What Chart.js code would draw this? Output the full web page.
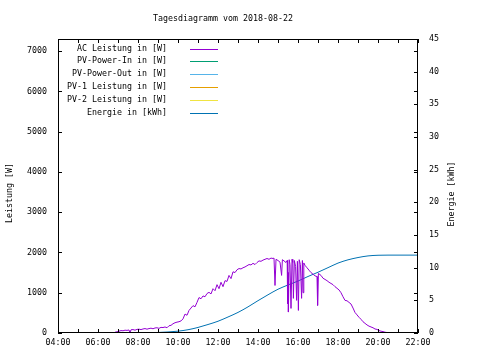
<!DOCTYPE html>
<html lang="de">
<head>
  <meta charset="UTF-8" />
  <title>Tagesdiagramm vom 2018-08-22</title>
  <script src="https://cdn.jsdelivr.net/npm/chart.js"></script>
  <style>
    body { margin: 0; background: #fff; }
    canvas { display: block; }
  </style>
</head>
<body>
  <canvas id="chart" width="480" height="360"></canvas>
  <script>
    // AC Leistung [W] over the day (hours as decimal)
    const acHours = [6.8, 6.85, 6.95, 7.05, 7.15, 7.25, 7.35, 7.45, 7.55, 7.6, 7.65, 7.75, 7.85, 7.95,
      8.05, 8.15, 8.25, 8.35, 8.45, 8.55, 8.65, 8.75, 8.85, 8.95, 9.05, 9.15, 9.25, 9.35, 9.45, 9.55,
      9.65, 9.75, 9.85, 9.95, 10.05, 10.15, 10.25, 10.35, 10.45, 10.55, 10.65, 10.75, 10.85, 10.95,
      11.05, 11.15, 11.25, 11.35, 11.45, 11.55, 11.65, 11.75, 11.85, 11.95, 12.05, 12.15, 12.25,
      12.35, 12.45, 12.55, 12.65, 12.75, 12.85, 12.95, 13.05, 13.15, 13.25, 13.35, 13.45, 13.55,
      13.65, 13.75, 13.85, 13.95, 14.05, 14.15, 14.25, 14.35, 14.45, 14.55, 14.65, 14.75, 14.8,
      14.85, 14.9, 15.0, 15.1, 15.18, 15.22, 15.3, 15.4, 15.46, 15.48, 15.5, 15.52, 15.56, 15.6,
      15.65, 15.7, 15.74, 15.77, 15.82, 15.88, 15.93, 15.97, 16.02, 16.06, 16.12, 16.18, 16.22,
      16.25, 16.29, 16.35, 16.45, 16.55, 16.65, 16.75, 16.85, 16.95, 16.98, 17.02, 17.15, 17.25,
      17.35, 17.45, 17.55, 17.65, 17.75, 17.85, 17.95, 18.05, 18.15, 18.25, 18.35, 18.45, 18.55,
      18.65, 18.75, 18.85, 18.95, 19.05, 19.15, 19.25, 19.35, 19.45, 19.55, 19.65, 19.75, 19.85,
      19.95, 20.05, 20.15, 20.25, 20.35, 20.45, 20.55, 20.65];
    const acWatts = [0, 20, 30, 45, 60, 55, 70, 65, 75, 5, 80, 85, 70, 90,
      95, 85, 100, 110, 95, 110, 120, 105, 125, 130, 115, 140, 135, 150, 130, 180,
      190, 230, 255, 270, 280, 300, 350, 470, 440, 560, 620, 680, 650, 760,
      880, 850, 920, 900, 980, 1010, 970, 1100, 1050, 1200, 1100, 1260, 1150,
      1300, 1280, 1430, 1350, 1520, 1500, 1570, 1600, 1590, 1620, 1640, 1670, 1700,
      1690, 1730, 1700, 1750, 1790, 1780, 1810, 1830, 1850, 1830, 1860, 1850, 1860,
      1180, 1830, 1800, 1760, 1430, 1820, 1790, 1750, 1800, 730, 1500, 520, 1820, 1700,
      610, 1830, 1750, 860, 1800, 1650, 810, 1780, 560, 1820, 1700, 860, 1800,
      1000, 1740, 1680, 1620, 1560, 1500, 1460, 1420, 1400, 685, 1480, 1430, 1360,
      1330, 1300, 1260, 1230, 1200, 1150, 1110, 1070, 1000, 900, 810, 800, 760,
      720, 620, 510, 450, 390, 340, 280, 240, 200, 170, 150, 130, 100,
      90, 60, 45, 35, 20, 12, 5, 0];

    // Energie [kWh], cumulative
    const energyHours = [8.0, 8.5, 9.0, 9.5, 10.0, 10.5, 11.0, 11.5, 12.0, 12.5, 13.0, 13.5, 14.0,
      14.5, 15.0, 15.5, 16.0, 16.5, 17.0, 17.5, 18.0, 18.5, 19.0, 19.5, 20.0, 20.5, 22.0];
    const energyKwh = [0, 0.03, 0.08, 0.16, 0.28, 0.5, 0.85, 1.3, 1.8, 2.45, 3.15, 4.0, 4.95,
      5.85, 6.7, 7.35, 7.95, 8.65, 9.3, 10.0, 10.7, 11.2, 11.55, 11.8, 11.9, 11.92, 11.92];

    const seriesLabels = ['AC Leistung in [W]', 'PV-Power-In in [W]', 'PV-Power-Out in [W]',
      'PV-1 Leistung in [W]', 'PV-2 Leistung in [W]', 'Energie in [kWh]'];
    const seriesColors = ['#9400d3', '#009e73', '#56b4e9', '#e69f00', '#f0e442', '#0072b2'];

    const xTickHours = [4, 5, 6, 7, 8, 9, 10, 11, 12, 13, 14, 15, 16, 17, 18, 19, 20, 21, 22];
    const yTicks = [0, 1000, 2000, 3000, 4000, 5000, 6000, 7000];
    const y2Ticks = [0, 5, 10, 15, 20, 25, 30, 35, 40, 45];

    const FONT = '"DejaVu Sans Mono", monospace';
    const fontSpec = { family: FONT, size: 8.3 };

    const toPoints = (xs, ys) => xs.map((x, i) => ({ x: x, y: ys[i] }));

    const datasets = seriesLabels.map((label, i) => ({
      label: label,
      data: [],
      borderColor: seriesColors[i],
      borderWidth: 1,
      pointRadius: 0,
      fill: false,
      yAxisID: i === 5 ? 'y2' : 'y'
    }));
    datasets[0].data = toPoints(acHours, acWatts);
    datasets[5].data = toPoints(energyHours, energyKwh);
    datasets[5].cubicInterpolationMode = 'monotone';
    datasets[0].order = 0;
    datasets[5].order = 1;

    const gnuplotDecor = {
      id: 'gnuplotDecor',
      afterDatasetsDraw(chart) {
        const ctx = chart.ctx;
        const a = chart.chartArea;
        const sx = chart.scales.x, sy = chart.scales.y, sy2 = chart.scales.y2;
        ctx.save();
        ctx.strokeStyle = '#000';
        ctx.lineWidth = 1;
        ctx.beginPath();
        xTickHours.forEach(h => {
          const px = Math.round(sx.getPixelForValue(h)) + 0.5;
          ctx.moveTo(px, a.bottom); ctx.lineTo(px, a.bottom - 4);
          ctx.moveTo(px, a.top); ctx.lineTo(px, a.top + 4);
        });
        yTicks.forEach(v => {
          const py = Math.round(sy.getPixelForValue(v)) + 0.5;
          ctx.moveTo(a.left, py); ctx.lineTo(a.left + 4, py);
          ctx.moveTo(a.right, py); ctx.lineTo(a.right - 4, py);
        });
        y2Ticks.forEach(v => {
          const py = Math.round(sy2.getPixelForValue(v)) + 0.5;
          ctx.moveTo(a.right, py); ctx.lineTo(a.right - 4, py);
        });
        ctx.stroke();
        ctx.strokeRect(Math.round(a.left) + 0.5, Math.round(a.top) + 0.5,
          Math.round(a.right - a.left) - 1, Math.round(a.bottom - a.top) - 1);

        // legend, gnuplot style: text right aligned, sample line on the right
        ctx.font = '8.3px ' + FONT;
        ctx.textAlign = 'right';
        ctx.textBaseline = 'middle';
        seriesLabels.forEach((label, i) => {
          const y = Math.round(48.5 + i * 12.9);
          ctx.fillStyle = '#000';
          ctx.fillText(label, 167, y);
          ctx.fillStyle = seriesColors[i];
          ctx.fillRect(190, y, 28, 1);
        });
        ctx.restore();
      },
      afterDraw(chart) {
        const ctx = chart.ctx;
        ctx.save();
        ctx.font = '8.3px ' + FONT;
        ctx.fillStyle = '#000';
        ctx.textAlign = 'center';
        ctx.textBaseline = 'middle';
        ctx.fillText('Tagesdiagramm vom 2018-08-22', 223, 18.5);
        ctx.translate(10, 193);
        ctx.rotate(-Math.PI / 2);
        ctx.fillText('Leistung [W]', 0, 0);
        ctx.restore();
        ctx.save();
        ctx.font = '8.3px ' + FONT;
        ctx.fillStyle = '#000';
        ctx.textAlign = 'center';
        ctx.textBaseline = 'middle';
        ctx.translate(452, 194);
        ctx.rotate(-Math.PI / 2);
        ctx.fillText('Energie [kWh]', 0, 0);
        ctx.restore();
      }
    };

    const pad2 = n => (n < 10 ? '0' : '') + n;
    const noGrid = { display: false, drawTicks: false, tickLength: 0 };

    new Chart(document.getElementById('chart'), {
      type: 'line',
      data: { datasets: datasets },
      options: {
        responsive: false,
        animation: false,
        devicePixelRatio: 1,
        layout: { padding: { top: 39, left: 0, right: 0, bottom: 0 } },
        plugins: { legend: { display: false }, tooltip: { enabled: false } },
        scales: {
          x: {
            type: 'linear', min: 4, max: 22,
            grid: noGrid, border: { display: false },
            ticks: { stepSize: 2, font: fontSpec, color: '#000', padding: 5, maxRotation: 0,
              callback: v => pad2(v) + ':00' },
            afterFit: s => { s.height = 27; }
          },
          y: {
            position: 'left', min: 0, max: 7300,
            grid: noGrid, border: { display: false },
            ticks: { font: fontSpec, color: '#000', padding: 11, callback: v => String(v) },
            afterBuildTicks: s => { s.ticks = yTicks.map(v => ({ value: v })); },
            afterFit: s => { s.width = 58; }
          },
          y2: {
            position: 'right', min: 0, max: 45,
            grid: noGrid, border: { display: false },
            ticks: { font: fontSpec, color: '#000', padding: 11, callback: v => String(v) },
            afterBuildTicks: s => { s.ticks = y2Ticks.map(v => ({ value: v })); },
            afterFit: s => { s.width = 62; }
          }
        }
      },
      plugins: [gnuplotDecor]
    });
  </script>
</body>
</html>
